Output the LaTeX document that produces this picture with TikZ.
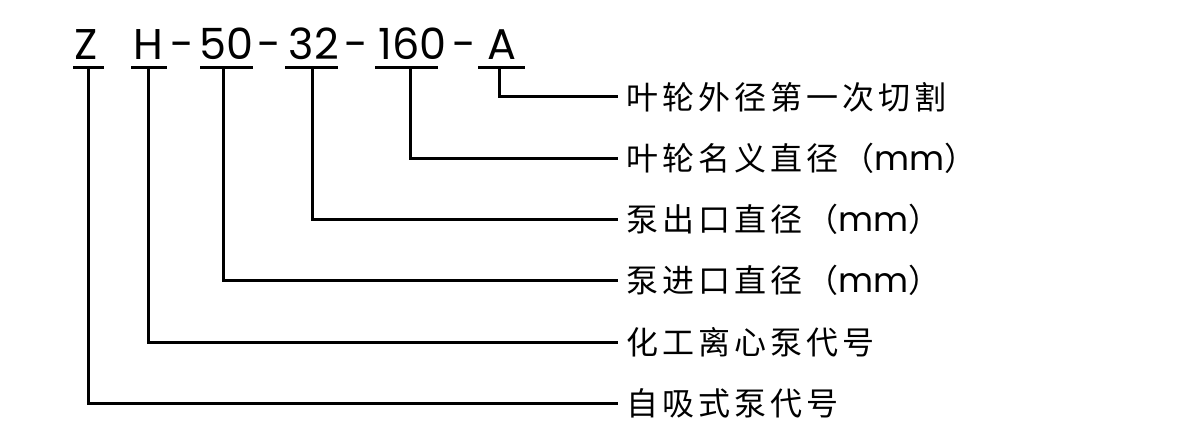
\documentclass[tikz,border=0pt]{standalone}
\usepackage{fontspec}
\newfontfamily\cjk[LetterSpace=12.5]{Noto Sans CJK SC}
\newfontfamily\codefont{Poppins}
\newfontfamily\unitfont{Poppins}
\newcommand{\mmunit}{{\unitfont\fontsize{34}{34}\selectfont mm}}
\begin{document}
\begin{tikzpicture}[x=1pt,y=-1pt,
  code/.style={anchor=base,inner sep=0pt,font=\codefont\fontsize{43}{43}\selectfont},
  lbl/.style={anchor=west,inner xsep=8pt,inner ysep=0pt,font=\cjk\fontsize{32}{32}\selectfont},
  conn/.style={line width=3pt,black},
  uline/.style={line width=3pt,black}]
\useasboundingbox[fill=white] (0,0) rectangle (1180,446);
% code characters
\node[code] (cZ) at (86.5,60) {Z};
\node[code] (cH) at (148.5,60) {H};
\node[code] (d1) at (182.5,60) {-};
\node[code] (c50) at (226.5,60) {50};
\node[code] (d2) at (269.5,60) {-};
\node[code] (c32) at (314,60) {32};
\node[code] (d3) at (356,60) {-};
\node[code] (c160) at (412.5,60) {160};
\node[code] (d4) at (464,60) {-};
\node[code] (cA) at (502,60) {A};
% underlines
\draw[uline] (73,67.5) -- (104,67.5);
\draw[uline] (131,67.5) -- (167,67.5);
\draw[uline] (200,67.5) -- (253,67.5);
\draw[uline] (285,67.5) -- (338,67.5);
\draw[uline] (375,67.5) -- (438,67.5);
\draw[uline] (478,67.5) -- (525,67.5);
\coordinate (uZ) at (88,67.5);
\coordinate (uH) at (148.5,67.5);
\coordinate (u50) at (223,67.5);
\coordinate (u32) at (312,67.5);
\coordinate (u160) at (410,67.5);
\coordinate (uA) at (499,67.5);
% labels
\node[lbl] (lA) at (618,97) {叶轮外径第一次切割};
\node[lbl] (l160) at (618,158.2) {叶轮名义直径（\mmunit）};
\node[lbl] (l32) at (618,219.5) {泵出口直径（\mmunit）};
\node[lbl] (l50) at (618,280.8) {泵进口直径（\mmunit）};
\node[lbl] (lH) at (618,342.5) {化工离心泵代号};
\node[lbl] (lZ) at (618,403) {自吸式泵代号};
% connectors
\draw[conn] (uA) |- (lA.west);
\draw[conn] (u160) |- (l160.west);
\draw[conn] (u32) |- (l32.west);
\draw[conn] (u50) |- (l50.west);
\draw[conn] (uH) |- (lH.west);
\draw[conn] (uZ) |- (lZ.west);
\end{tikzpicture}
\end{document}
